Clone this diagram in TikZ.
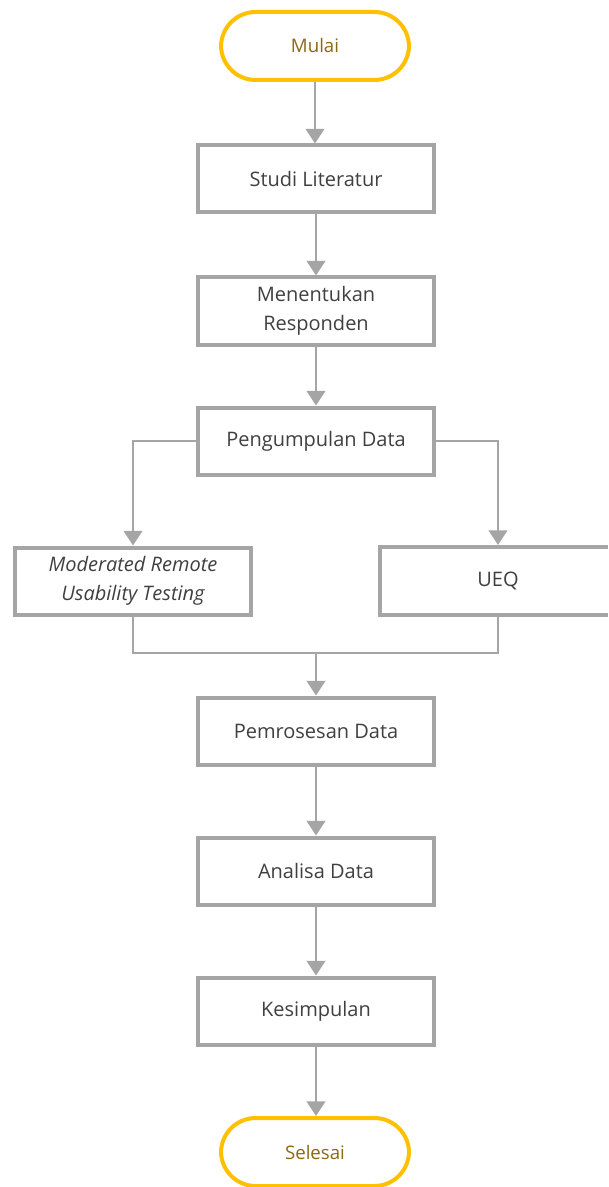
\documentclass[tikz,border=0pt]{standalone}
\usepackage{fontspec}
\setmainfont{Open Sans}
\usetikzlibrary{arrows.meta}
\definecolor{boxgray}{HTML}{A5A5A5}
\definecolor{linegray}{HTML}{A5A5A5}
\definecolor{txtgray}{HTML}{404040}
\definecolor{termorange}{HTML}{FFC000}
\definecolor{termtxt}{HTML}{8C6A10}
\tikzset{
  stepbox/.style={draw=boxgray, line width=3pt, fill=white, minimum width=240*0.75pt-3pt, minimum height=71*0.75pt-3pt, inner sep=0pt, align=center, text=txtgray, font=\fontsize{15}{21.5}\selectfont},
  term/.style={draw=termorange, line width=3pt, fill=white, rounded corners=26pt, minimum width=192*0.75pt-3pt, minimum height=72*0.75pt-3pt, inner sep=0pt, text=termtxt, font=\fontsize{14}{16}\selectfont},
  conn/.style={draw=linegray, line width=1.5pt},
  arr/.style={conn, -{Triangle[width=14pt,length=11pt]}},
  openbox/.style={draw=boxgray, line width=3pt}
}
\begin{document}
\begin{tikzpicture}[x=0.75pt,y=-0.75pt]
\useasboundingbox (0,0) rectangle (608,1187);
\fill[white] (0,0) rectangle (608,1187);
\node[term] (mulai) at (315,46) {Mulai};
\node[stepbox] (studi) at (316,179) {Studi Literatur};
\node[stepbox] (resp) at (316,311) {Menentukan\\Responden};
\node[stepbox] (kumpul) at (316,441) {Pengumpulan Data};
\node[stepbox] (mrut) at (133,581) {\itshape Moderated Remote\\\itshape Usability Testing};
\node[stepbox, draw=none, minimum width=10pt] (ueq) at (498,581) {UEQ};
\draw[openbox] (608,547) -| (380,615) -- (608,615);
\node[stepbox] (proses) at (316,731) {Pemrosesan Data};
\node[stepbox] (analisa) at (316,871) {Analisa Data};
\node[stepbox] (simpul) at (316,1011) {Kesimpulan};
\node[term] (selesai) at (315,1152) {Selesai};
\coordinate (merge) at (316,653);
\coordinate (ueqtop) at (498,545);
\coordinate (ueqbot) at (498,617);
\draw[arr] (mulai.south) -- (mulai.south |- studi.north);
\draw[arr] (studi.south) -- (resp.north);
\draw[arr] (resp.south) -- (kumpul.north);
\draw[arr] (kumpul.west) -| (mrut.north);
\draw[arr] (kumpul.east) -| (ueqtop);
\draw[conn] (mrut.south) |- (merge) -| (ueqbot);
\draw[arr] (merge) -- (proses.north);
\draw[arr] (proses.south) -- (analisa.north);
\draw[arr] (analisa.south) -- (simpul.north);
\draw[arr] (simpul.south) -- (simpul.south |- selesai.north);
\end{tikzpicture}
\end{document}
